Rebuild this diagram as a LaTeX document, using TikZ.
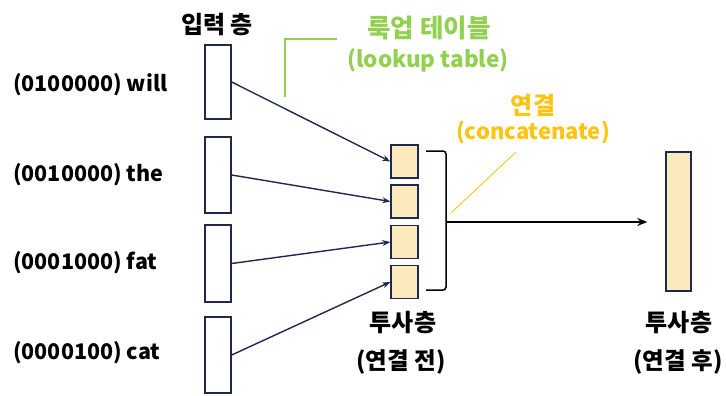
\documentclass[tikz,border=0pt]{standalone}
\usepackage{fontspec}
\setmainfont{Noto Sans CJK KR}
\usetikzlibrary{arrows.meta}
\definecolor{navy}{RGB}{31,40,78}
\definecolor{lgreen}{RGB}{146,208,80}
\definecolor{gold}{RGB}{255,195,20}
\definecolor{peach}{RGB}{253,233,190}
\begin{document}
\begin{tikzpicture}[x=1pt,y=-1pt,
  txt/.style={font=\fontsize{21.5}{25}\selectfont\bfseries, inner sep=0pt},
  krtxt/.style={font=\fontsize{24}{28}\selectfont\bfseries, inner sep=0pt},
  mixtxt/.style={font=\fontsize{23.5}{27}\selectfont\bfseries, inner sep=0pt},
  inbox/.style={draw=navy, line width=1.4pt, minimum width=26pt, inner sep=0pt, fill=white},
  pbox/.style={draw=navy, line width=1.4pt, fill=peach, minimum width=27pt, minimum height=33pt, inner sep=0pt},
  conn/.style={draw=navy, line width=1.4pt, -{Stealth[length=8pt,width=6pt]}}]
\useasboundingbox (0,0) rectangle (726,396);
% input boxes
\node[inbox, minimum height=74pt] (in1) at (218,82) {};
\node[inbox, minimum height=76pt] (in2) at (218,175) {};
\node[inbox, minimum height=77pt] (in3) at (218,263.5) {};
\node[inbox, minimum height=76pt] (in4) at (218,355) {};
% word labels
\node[txt, anchor=west] (w1) at (13,85) {(0100000) will};
\node[txt, anchor=west] (w2) at (13,175) {(0010000) the};
\node[txt, anchor=west] (w3) at (13,263) {(0001000) fat};
\node[txt, anchor=west] (w4) at (13,353) {(0000100) cat};
\node[krtxt] (inl) at (217,25) {입력 층};
% projection boxes
\node[pbox] (p1) at (404.5,161.5) {};
\node[pbox] (p2) at (404.5,201.5) {};
\node[pbox] (p3) at (404.5,242) {};
\node[pbox] (p4) at (404.5,282) {};
% big box
\node[draw=navy, line width=1.4pt, fill=peach, minimum width=25pt, minimum height=139pt, inner sep=0pt] (q) at (678.5,221.5) {};
% labels
\node[krtxt] (pl1) at (403,323) {투사층};
\node[mixtxt] (pl2) at (401,362) {(연결 전)};
\node[krtxt] (ql1) at (679,323) {투사층};
\node[mixtxt] (ql2) at (678,362) {(연결 후)};
% lookup table
\node[krtxt, text=lgreen, font=\fontsize{25.5}{29}\selectfont\bfseries] (lk1) at (429,28) {룩업 테이블};
\node[mixtxt, text=lgreen, font=\fontsize{22.5}{26}\selectfont\bfseries] (lk2) at (428,60) {(lookup table)};
\coordinate (g1) at (337,39);
\coordinate (g2) at (285,39);
\coordinate (g3) at (285,97);
\draw[lgreen, line width=1.4pt] (g1) -- (g2) -- (g3);
% concatenate
\node[krtxt, text=gold] (c1) at (533,105) {연결};
\node[mixtxt, text=gold, font=\fontsize{22}{26}\selectfont\bfseries] (c2) at (533,133) {(concatenate)};
\coordinate (cs) at (516,152);
\coordinate (ce) at (451,213);
\draw[gold, line width=0.9pt] (cs) -- (ce);
% arrows
\draw[conn] (in1.east) -- (p1.west);
\draw[conn] (in2.east) -- (p2.west);
\draw[conn] (in3.east) -- (p3.west);
\draw[conn] (in4.east) -- (p4.west);
% bracket
\coordinate (b1) at (426,151);
\coordinate (b2) at (446,151);
\coordinate (b3) at (446,290);
\coordinate (b4) at (426,290);
\coordinate (bm) at (446,222);
\draw[black, line width=1.5pt, rounded corners=3pt] (b1) -- (b2) -- (b3) -- (b4);
\draw[black, line width=1.5pt, -{Stealth[length=10pt,width=8pt]}, shorten >=18pt] (bm) -- (bm -| q.west);
\end{tikzpicture}
\end{document}
